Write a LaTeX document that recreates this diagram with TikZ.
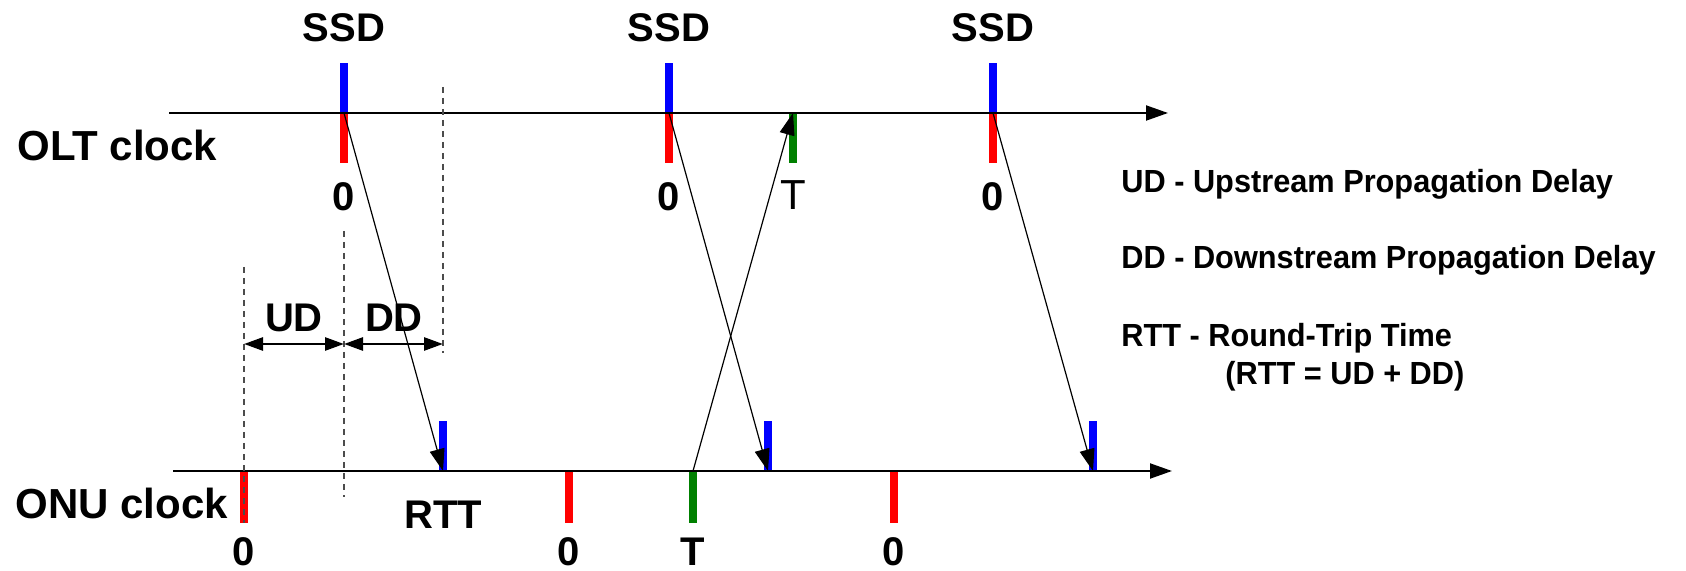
\documentclass[tikz,border=0pt]{standalone}
\usepackage{fontspec}
\setmainfont{Liberation Sans}
\newfontfamily\legendfont[FakeStretch=0.96]{Liberation Sans}
\usetikzlibrary{arrows.meta}

\definecolor{tgreen}{RGB}{0,128,0}

\begin{document}
\begin{tikzpicture}[x=0.5pt, y=-0.5pt,
    lbl/.style={inner sep=0pt, anchor=base, font=\fontsize{20}{24}\selectfont\bfseries},
    clk/.style={inner sep=0pt, anchor=base west, font=\fontsize{21}{25}\selectfont\bfseries},
    legend/.style={inner sep=0pt, anchor=base west, font=\legendfont\fontsize{16}{19}\selectfont\bfseries},
    axis/.style={line width=1pt, -{Triangle[length=11pt, width=7.5pt]}},
    msg/.style={line width=0.6pt, -{Triangle[length=11pt, width=7.5pt]}},
    span/.style={line width=1.3pt, {Triangle[length=9.5pt, width=6.5pt]}-{Triangle[length=9.5pt, width=6.5pt]}},
    guide/.style={line width=0.7pt, black!70, dash pattern=on 3pt off 2.5pt},
    tickmark/.style={line width=4pt}]

    \useasboundingbox (0,0) rectangle (1686,571);

    % OLT clock points
    \coordinate (o1) at (344,113);
    \coordinate (o2) at (669,113);
    \coordinate (o3) at (993,113);
    \coordinate (oT) at (793,113);

    % ONU clock points
    \coordinate (n1) at (244,471);
    \coordinate (n2) at (569,471);
    \coordinate (n3) at (894,471);
    \coordinate (nT) at (693,471);
    \coordinate (s1) at (443,471);
    \coordinate (s2) at (768,471);
    \coordinate (s3) at (1093,471);

    % ticks
    \draw[tickmark, blue] (o1) -- ++(0,-50);
    \draw[tickmark, red]  (o1) -- ++(0,50);
    \draw[tickmark, blue] (o2) -- ++(0,-50);
    \draw[tickmark, red]  (o2) -- ++(0,50);
    \draw[tickmark, blue] (o3) -- ++(0,-50);
    \draw[tickmark, red]  (o3) -- ++(0,50);
    \draw[tickmark, tgreen] (oT) -- ++(0,50);

    \draw[tickmark, red]  (n1) -- ++(0,52);
    \draw[tickmark, red]  (n2) -- ++(0,52);
    \draw[tickmark, red]  (n3) -- ++(0,52);
    \draw[tickmark, tgreen] (nT) -- ++(0,52);
    \draw[tickmark, blue] (s1) -- ++(0,-50);
    \draw[tickmark, blue] (s2) -- ++(0,-50);
    \draw[tickmark, blue] (s3) -- ++(0,-50);

    % time axes
    \coordinate (oltS) at (169,113);
    \coordinate (oltE) at (1168,113);
    \coordinate (onuS) at (173,471);
    \coordinate (onuE) at (1172,471);
    \draw[axis] (oltS) -- (oltE);
    \draw[axis] (onuS) -- (onuE);

    % guides
    \draw[guide] (244,267) -- (244,523);
    \draw[guide] (344,231) -- (344,497);
    \draw[guide] (443,87) -- (443,353);

    \coordinate (udA) at (244,344);
    \coordinate (udB) at (344,344);
    \coordinate (ddB) at (443,344);
    \draw[span] (udA) -- (udB);
    \draw[span] (udB) -- (ddB);
    \node (ud) at (294,332) [lbl] {UD};
    \node (dd) at (394,332) [lbl] {DD};

    % messages
    \draw[msg] (o1) -- (s1);
    \draw[msg] (o2) -- (s2);
    \draw[msg] (o3) -- (s3);
    \draw[msg] (nT) -- (oT);

    % labels
    \node (ssd1) at (344,42) [lbl] {SSD};
    \node (ssd2) at (669,42) [lbl] {SSD};
    \node (ssd3) at (993,42) [lbl] {SSD};

    \node (z1) at (344,211) [lbl] {0};
    \node (z2) at (669,211) [lbl] {0};
    \node (z3) at (993,211) [lbl] {0};
    \node (tOlt) at (793,210) [lbl, font=\fontsize{21}{25}\selectfont] {T};

    \node (oltname) at (17,161) [clk] {OLT clock};
    \node (onuname) at (15,518) [clk] {ONU clock};

    \node (rtt) at (443,528) [lbl] {RTT};
    \node (b1) at (244,565) [lbl] {0};
    \node (b2) at (569,565) [lbl] {0};
    \node (b3) at (894,565) [lbl] {0};
    \node (tOnu) at (693,565) [lbl] {T};

    % legend
    \node (lgUD)  at (1121,193) [legend] {UD - Upstream Propagation Delay};
    \node (lgDD)  at (1121,269) [legend] {DD - Downstream Propagation Delay};
    \node (lgRTT) at (1121,347) [legend] {RTT - Round-Trip Time};
    \node (lgEq)  at (1225,385) [legend] {(RTT = UD + DD)};

\end{tikzpicture}
\end{document}
